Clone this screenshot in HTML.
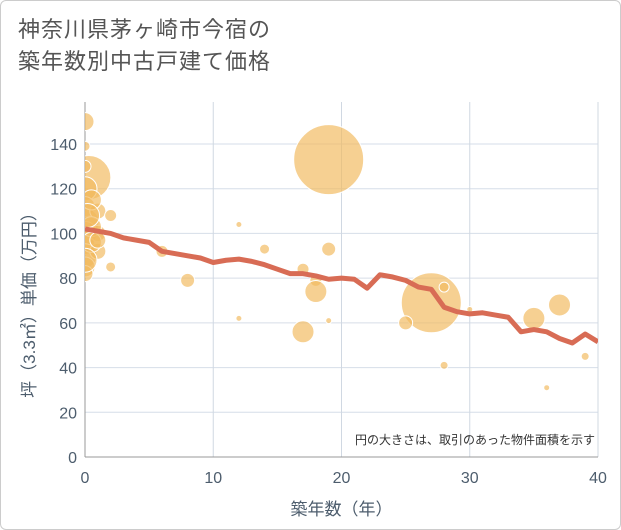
<!DOCTYPE html>
<html><head><meta charset="utf-8"><style>
body{margin:0;background:#fff;}
#wrap{position:relative;width:621px;height:530px;border:1px solid #ccc;box-sizing:border-box;border-radius:6px;overflow:hidden;font-family:"Liberation Sans","Noto Sans CJK JP",sans-serif;}
#title{position:absolute;left:17px;top:13px;font-size:22px;line-height:32px;color:#555;letter-spacing:1px;}
</style></head><body>
<div id="wrap">
<div id="title">神奈川県茅ヶ崎市今宿の<br>築年数別中古戸建て価格</div>
<svg id="chart" width="621" height="530" style="position:absolute;left:0;top:0"></svg>
</div>
<script>
const xTicks=[0,10,20,30,40];
const yTicks=[0,20,40,60,80,100,120,140];
const lineYears=[0,1,2,3,4,5,6,7,8,9,10,11,12,13,14,15,16,17,18,19,20,21,22,23,24,25,26,27,28,29,30,31,32,33,34,35,36,37,38,39,40];
const lineValues=[102,101,100,98,97,96,92,91,90,89,87,88,88.5,87.5,86,84,82,82,81,79.5,80,79.5,75.5,81.5,80.5,79,76,75,67,65,64,64.5,63.5,62.5,56,57,56,53,51,55,51.5];
const bubbleYears=[19,27,0.3,0,0,0,0,0,0,0,0,0,1,1,1,2,2,0,0,6,8,12,12,14,17,17,18,18,19,19,25,28,28,30,35,37,39,36,0.5,0.5,0.5,0,0.2,1];
const bubbleValues=[133,69,125,150,120,112,105,100,95,90,85,82,110,100,92,108,85,139,130,92,79,104,62,93,84,56,79,74,93,61,60,76,41,66,62,68,45,31,115,103,96,88,108,97];
const bubbleSizes=[35,30,22,9,12,10,14,12,10,12,10,8,8,8,8,6,5,5,6,6,7,3,3,5,6,11,6,11,7,3,7,5,4,3,11,11,4,3,10,10,10,12,12,8];
const NS="http://www.w3.org/2000/svg";
const svg=document.getElementById('chart');
const X0=84,X1=597,Y0=456,YT=143;
const xs=v=>X0+(X1-X0)*v/40;
const ys=v=>Y0-(Y0-YT)*v/140;
function mk(t,a,p){const e=document.createElementNS(NS,t);for(const k in a)e.setAttribute(k,a[k]);(p||svg).appendChild(e);return e;}
const defs=mk('defs',{});
const cp=mk('clipPath',{id:'clip'},defs);
mk('rect',{x:X0,y:101,width:X1-X0,height:Y0-101},cp);
yTicks.forEach(v=>{
 const l=mk('line',{x1:X0,x2:X1,y1:ys(v),y2:ys(v),stroke:'#d6dee8','stroke-width':1});
 
 
 const t=mk('text',{x:X0-8,y:ys(v)+6,'text-anchor':'end','font-size':16,fill:'#4d5d6d'});
 t.textContent=v;
 
 
});
xTicks.forEach(v=>{
 const l=mk('line',{x1:xs(v),x2:xs(v),y1:101,y2:Y0,stroke:v===0?'#999':'#d0d8e2','stroke-width':1});
 
 
 const t=mk('text',{x:xs(v),y:Y0+26,'text-anchor':'middle','font-size':16,fill:'#4d5d6d'});
 t.textContent=v;
 
 
});
const xa=mk('line',{x1:X0,x2:X1,y1:Y0,y2:Y0,stroke:'#999'});


const g=mk('g',{'clip-path':'url(#clip)'});


bubbleYears.forEach((yr,i)=>{
 const c=mk('circle',{cx:xs(yr),cy:ys(bubbleValues[i]),r:bubbleSizes[i],fill:'rgba(241,185,95,0.68)',stroke:'#fff','stroke-width':1},g);
 
 
});
const pts=lineYears.map((yr,i)=>xs(yr)+','+ys(lineValues[i])).join(' ');
const pl=mk('polyline',{points:pts,fill:'none',stroke:'#d86c55','stroke-width':5,'stroke-linejoin':'round'},g);


const note=mk('text',{x:594,y:443,'text-anchor':'end','font-size':12,fill:'#333'});
note.textContent='円の大きさは、取引のあった物件面積を示す';


const xt=mk('text',{x:(X0+X1)/2,y:514,'text-anchor':'middle','font-size':17,fill:'#4d5d6d'});
xt.textContent='築年数（年）';


const yt=mk('text',{x:0,y:0,'text-anchor':'middle','font-size':17,fill:'#4d5d6d',transform:'translate(34,300) rotate(-90)'});
yt.textContent='坪（3.3㎡）単価（万円）';


</script>
</body></html>
